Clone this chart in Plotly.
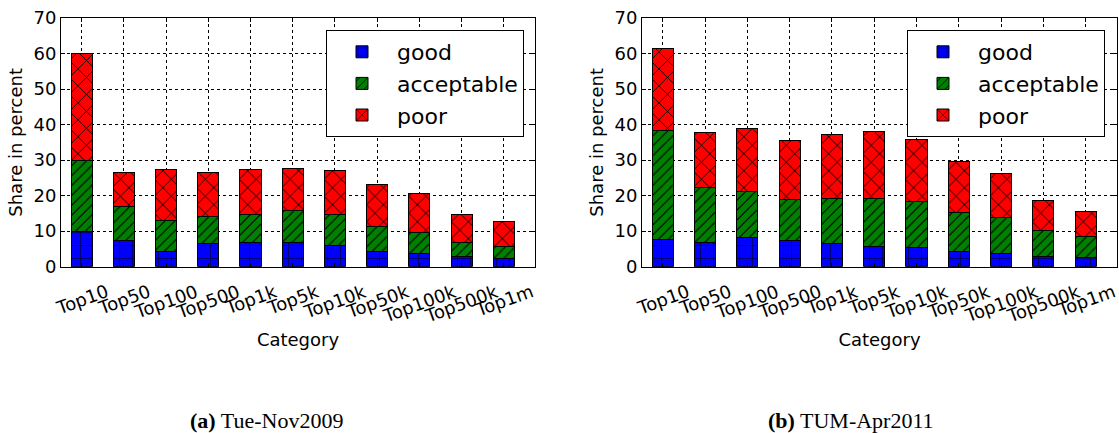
import plotly.graph_objects as go

categories = ["Top10", "Top50", "Top100", "Top500", "Top1k", "Top5k",
              "Top10k", "Top50k", "Top100k", "Top500k", "Top1m"]

# Tue-Nov2009 shares (percent)
nov_good = [10.0, 7.3, 4.3, 6.6, 6.7, 6.8, 6.1, 4.4, 3.8, 2.9, 2.4]
nov_acceptable = [20.0, 9.6, 8.8, 7.6, 8.0, 9.0, 8.6, 6.9, 5.9, 3.9, 3.2]
nov_poor = [30.0, 9.5, 14.4, 12.2, 12.8, 11.9, 12.4, 11.7, 10.8, 7.9, 7.0]

# TUM-Apr2011 shares (percent)
apr_good = [7.7, 6.9, 8.3, 7.4, 6.6, 5.6, 5.4, 4.3, 3.8, 3.0, 2.6]
apr_acceptable = [30.7, 15.4, 12.9, 11.5, 12.5, 13.6, 12.9, 11.0, 10.0, 7.3, 6.0]
apr_poor = [23.1, 15.6, 17.7, 16.7, 18.0, 18.8, 17.6, 14.4, 12.5, 8.2, 6.8]

y_ticks = [0, 10, 20, 30, 40, 50, 60, 70]

series_style = {
    "good": dict(color="#0000ff", shape="+", size=13, solidity=0.08),
    "acceptable": dict(color="#008000", shape="/", size=7, solidity=0.16),
    "poor": dict(color="#ff0000", shape="x", size=12, solidity=0.14),
}

FONT = "DejaVu Sans"
W, H = 1119, 433
Y_BOTTOM, Y_TOP = 266.7, 18.0

fig = go.Figure()


def add_panel(values, xa, ya, legend_name):
    for name, vals in zip(["good", "acceptable", "poor"], values):
        st = series_style[name]
        fig.add_trace(go.Bar(
            x=categories, y=vals, name=name, width=0.5,
            xaxis=xa, yaxis=ya, legend=legend_name,
            marker=dict(
                color=st["color"],
                line=dict(color="black", width=1),
                pattern=dict(shape=st["shape"], size=st["size"],
                             solidity=st["solidity"], fgcolor="black",
                             bgcolor=st["color"], fillmode="replace"),
            ),
        ))


add_panel([nov_good, nov_acceptable, nov_poor], "x", "y", "legend")
add_panel([apr_good, apr_acceptable, apr_poor], "x2", "y2", "legend2")

y_dom = [1 - Y_BOTTOM / H, 1 - Y_TOP / H]

xcommon = dict(
    type="category", range=[-0.49, 10.74], showline=True, linecolor="black",
    linewidth=1, mirror="ticks", ticks="inside", ticklen=4, tickcolor="black",
    showgrid=True, gridcolor="black", griddash="dot", gridwidth=1,
    showticklabels=False, automargin=False,
    title=dict(text="Category", font=dict(family=FONT, size=18, color="black"),
               standoff=66),
)
ycommon = dict(
    range=[0, 70], tickvals=y_ticks, showline=True, linecolor="black",
    linewidth=1, mirror="ticks", ticks="inside", ticklen=4, tickcolor="black",
    showgrid=True, gridcolor="black", griddash="dot", gridwidth=1,
    zeroline=False, automargin=False,
    tickfont=dict(family=FONT, size=18, color="black"),
    title=dict(text="Share in percent",
               font=dict(family=FONT, size=18, color="black"), standoff=6),
)

legend_common = dict(
    font=dict(family=FONT, size=22, color="black"), bgcolor="white",
    bordercolor="black", borderwidth=1, xanchor="right", yanchor="top",
    traceorder="normal", itemwidth=60,
)

# rotated category labels, centred under each bar
annotations = []
for xa in ["x", "x2"]:
    for cat in categories:
        annotations.append(dict(
            text=cat, x=cat, xref=xa, y=1 - 278.0 / H, yref="paper",
            xanchor="center", yanchor="top", textangle=-20, showarrow=False,
            font=dict(family=FONT, size=18, color="black"),
        ))

annotations += [
    dict(text="<b>(a)</b> Tue-Nov2009", x=266 / W, y=1 - 420 / H,
         xref="paper", yref="paper", xanchor="center", yanchor="middle",
         showarrow=False,
         font=dict(family="Liberation Serif", size=22, color="black")),
    dict(text="<b>(b)</b> TUM-Apr2011", x=851 / W, y=1 - 420 / H,
         xref="paper", yref="paper", xanchor="center", yanchor="middle",
         showarrow=False,
         font=dict(family="Liberation Serif", size=22, color="black")),
]

fig.update_layout(
    width=W, height=H, margin=dict(l=0, r=0, t=0, b=0, autoexpand=False),
    paper_bgcolor="white", plot_bgcolor="white", barmode="stack",
    xaxis=dict(domain=[61 / W, 535 / W], anchor="y", **xcommon),
    yaxis=dict(domain=y_dom, anchor="x", **ycommon),
    xaxis2=dict(domain=[642 / W, 1117 / W], anchor="y2", **xcommon),
    yaxis2=dict(domain=y_dom, anchor="x2", **ycommon),
    legend=dict(x=524 / W, y=1 - 30 / H, **legend_common),
    legend2=dict(x=1105 / W, y=1 - 30 / H, **legend_common),
    annotations=annotations,
)

fig.write_html("out.html")
